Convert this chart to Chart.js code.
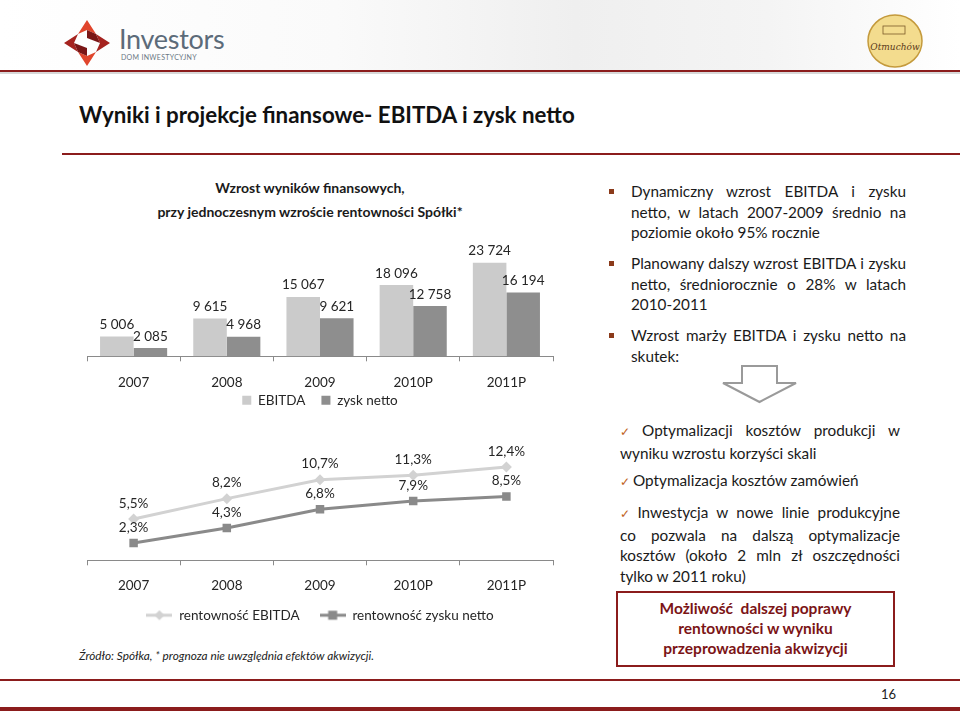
<!DOCTYPE html>
<html>
<head>
<meta charset="utf-8">
<script src="https://cdn.jsdelivr.net/npm/chart.js@4.4.1/dist/chart.umd.min.js"></script>
<style>
  body { margin: 0; background: #fff; font-family: Lato, "Open Sans", sans-serif; color: #1a1a1a; }
  #page { position: relative; width: 960px; height: 711px; overflow: hidden; }
  .abs { position: absolute; }
  #header { left: 0; top: 0; width: 960px; height: 71px;
    background: linear-gradient(to right, #fff 0%, #fafafa 35%, #efefef 60%, #f4f4f4 80%, #fff 100%); }
  .rule { position: absolute; left: 0; width: 960px; background: #8b1c1c; }
  #title { left: 79px; top: 101px; font-size: 22.3px; font-weight: bold; color: #111; }
  #subtitle { left: 110px; top: 176px; width: 400px; text-align: center; font-size: 14px; font-weight: bold; line-height: 24px; }
  .txt { font-size: 15.3px; line-height: 20.5px; width: 275px; }
  .txt div { text-align: justify; white-space: nowrap; }
  .txt div.j { text-align-last: justify; white-space: normal; }
  .sq { position: absolute; width: 5px; height: 5px; background: #8b3a1a; }
  .chk { color: #c0641e; font-size: 12px; margin-right: 3px; }
  #box { left: 616px; top: 591px; width: 275px; height: 67px; border: 2px solid #8b1c1c;
    color: #7b1416; font-weight: bold; font-size: 15.5px; line-height: 20px; text-align: center; padding-top: 5px; box-sizing: content-box; }
  #src { left: 79px; top: 648px; font-size: 11.8px; font-style: italic; color: #222; }
</style>
</head>
<body>
<div id="page">
  <div id="header" class="abs"></div>
  <div class="rule" style="top:70px;height:2px;"></div>
  <div class="abs" style="left:0;top:72px;width:960px;height:2px;background:#d8d8d8;"></div>

  <!-- Investors logo -->
  <svg class="abs" style="left:62px;top:18px;" width="50" height="50" viewBox="0 0 50 50">
    <path d="M25 2 L34 16 L25 12 L16 16 Z" fill="#e0452c"/>
    <path d="M48 25 L34 34 L38 25 L34 16 Z" fill="#a5231f"/>
    <path d="M25 48 L16 34 L25 38 L34 34 Z" fill="#e0452c"/>
    <path d="M2 25 L16 16 L12 25 L16 34 Z" fill="#a5231f"/>
    <path d="M25 12 L34 16 L38 25 L25 20 Z" fill="#7a1616"/>
    <path d="M25 38 L16 34 L12 25 L25 30 Z" fill="#7a1616"/>
  </svg>
  <div class="abs" style="left:119px;top:22px;font-size:27px;color:#5c6b79;letter-spacing:-0.3px;">Investors</div>
  <div class="abs" style="left:121px;top:53px;font-size:7px;color:#6a7783;letter-spacing:0.3px;">DOM INWESTYCYJNY</div>

  <!-- Otmuchów logo -->
  <svg class="abs" style="left:866px;top:13px;" width="58" height="56" viewBox="0 0 58 56">
    <ellipse cx="29" cy="28" rx="27" ry="26" fill="#f3dc8e" stroke="#c49a3c" stroke-width="1.5"/>
    <rect x="17" y="13" width="22" height="8" fill="none" stroke="#7a5a2a" stroke-width="0.8"/>
    <text x="29" y="37" text-anchor="middle" font-family="DejaVu Serif" font-style="italic" font-size="9" fill="#5a3a1a">Otmuchów</text>
  </svg>

  <div id="title" class="abs">Wyniki i projekcje finansowe- EBITDA i zysk netto</div>
  <div class="abs" style="left:62px;top:153px;width:898px;height:2px;background:#8b1c1c;"></div>

  <div id="subtitle" class="abs">Wzrost wyników finansowych,<br>przy jednoczesnym wzroście rentowności Spółki*</div>

  <div class="abs" style="left:80px;top:230px;width:480px;height:187px;"><canvas id="barChart"></canvas></div>
  <div class="abs" style="left:80px;top:432px;width:480px;height:200px;"><canvas id="lineChart"></canvas></div>

  <div id="src" class="abs">Źródło: Spółka, * prognoza nie uwzględnia efektów akwizycji.</div>

  <!-- right column -->
  <div class="sq" style="left:609px;top:189px;"></div>
  <div class="sq" style="left:609px;top:261px;"></div>
  <div class="sq" style="left:609px;top:333px;"></div>
  <div class="abs txt" style="left:631px;top:181px;">
    <div class="j">Dynamiczny wzrost EBITDA i zysku</div>
    <div class="j">netto, w latach 2007-2009 średnio na</div>
    <div>poziomie około 95% rocznie</div>
  </div>
  <div class="abs txt" style="left:631px;top:253px;">
    <div class="j">Planowany dalszy wzrost EBITDA i zysku</div>
    <div class="j">netto, średniorocznie o 28% w latach</div>
    <div>2010-2011</div>
  </div>
  <div class="abs txt" style="left:631px;top:325px;">
    <div class="j">Wzrost marży EBITDA i zysku netto na</div>
    <div>skutek:</div>
  </div>

  <svg class="abs" style="left:720px;top:364px;" width="80" height="40" viewBox="0 0 80 40">
    <path d="M22 2 L57 2 L57 19 L76 19 L39.5 38 L3 19 L22 19 Z" fill="#fff" stroke="#9a9a9a" stroke-width="2"/>
  </svg>

  <div class="abs txt" style="left:620px;top:420px;width:280px;">
    <div class="j"><span class="chk">✓</span>Optymalizacji kosztów produkcji w</div>
    <div>wyniku wzrostu korzyści skali</div>
  </div>
  <div class="abs txt" style="left:620px;top:470px;width:280px;">
    <div><span class="chk">✓</span>Optymalizacja kosztów zamówień</div>
  </div>
  <div class="abs txt" style="left:620px;top:502px;width:280px;">
    <div class="j"><span class="chk">✓</span>Inwestycja w nowe linie produkcyjne</div>
    <div class="j">co pozwala na dalszą optymalizacje</div>
    <div class="j">kosztów (około 2 mln zł oszczędności</div>
    <div>tylko w 2011 roku)</div>
  </div>
  <div id="box" class="abs">Możliwość&nbsp; dalszej poprawy<br>rentowności w wyniku<br>przeprowadzenia akwizycji</div>

  <div class="rule" style="top:679px;height:2px;"></div>
  <div class="abs" style="left:881px;top:686px;font-size:13px;color:#222;">16</div>
  <div class="rule" style="top:707px;height:4px;"></div>
</div>

<script>
// dane
const years = ['2007', '2008', '2009', '2010P', '2011P'];
const ebitda = [5006, 9615, 15067, 18096, 23724];
const zyskNetto = [2085, 4968, 9621, 12758, 16194];
const rentEbitda = [5.5, 8.2, 10.7, 11.3, 12.4];
const rentZysku = [2.3, 4.3, 6.8, 7.9, 8.5];

const FONT = 'Lato';
const TEXT = '#262626';

// etykiety wartosci nad slupkami / punktami
const valueLabels = {
  id: 'valueLabels',
  afterDatasetsDraw(chart, args, opts) {
    const ctx = chart.ctx;
    ctx.save();
    ctx.font = '13.5px ' + FONT;
    ctx.fillStyle = TEXT;
    ctx.textAlign = 'center';
    ctx.textBaseline = 'bottom';
    chart.data.datasets.forEach((ds, di) => {
      const meta = chart.getDatasetMeta(di);
      meta.data.forEach((el, i) => {
        ctx.fillText(opts.format(ds.data[i]), el.x, el.y - opts.offset);
      });
    });
    ctx.restore();
  }
};

// legenda zajmuje mniej miejsca w ukladzie, ale rysuje sie w tym samym miejscu
const legendLift = {
  id: 'legendLift',
  beforeLayout(chart, args, opts) {
    const lg = chart.legend;
    if (lg && !lg._lifted) {
      const fit = lg.fit;
      lg.fit = function () { fit.call(this); this.height -= opts.k; };
      lg._lifted = true;
    }
  },
  afterLayout(chart, args, opts) {
    if (chart.legend) { chart.legend.top -= opts.k; }
  }
};

const fmtThousands = (v) => String(v).replace(/\B(?=(\d{3})+(?!\d))/g, ' ');
const fmtPct = (v) => v.toFixed(1).replace('.', ',') + '%';

new Chart(document.getElementById('barChart'), {
  type: 'bar',
  data: {
    labels: years,
    datasets: [
      { label: 'EBITDA', data: ebitda, backgroundColor: '#cbcbcb' },
      { label: 'zysk netto', data: zyskNetto, backgroundColor: '#8e8e8e' }
    ]
  },
  options: {
    responsive: true,
    maintainAspectRatio: false,
    animation: false,
    categoryPercentage: 0.72,
    barPercentage: 1.0,
    layout: { padding: { top: 8, left: 7, right: 7, bottom: 0 } },
    scales: {
      x: {
        grid: { offset: true, drawOnChartArea: false, drawTicks: true, tickLength: 5, color: '#8a8a8a' },
        border: { color: '#8a8a8a' },
        ticks: { font: { family: FONT, size: 13.5 }, color: TEXT, padding: 13 }
      },
      y: { display: false, min: 0, max: 30000 }
    },
    plugins: {
      legend: {
        position: 'bottom',
        labels: { boxWidth: 9, boxHeight: 9, padding: 16, font: { family: FONT, size: 13.5 }, color: TEXT }
      },
      tooltip: { enabled: false },
      valueLabels: { format: fmtThousands, offset: 5 },
      legendLift: { k: 26 }
    }
  },
  plugins: [valueLabels, legendLift]
});

// ikonki legendy: linia z markerem
function legendIcon(color, shape) {
  const c = document.createElement('canvas');
  c.width = 26; c.height = 12;
  const g = c.getContext('2d');
  g.strokeStyle = color; g.fillStyle = color; g.lineWidth = 3;
  g.beginPath(); g.moveTo(0, 6); g.lineTo(26, 6); g.stroke();
  if (shape === 'diamond') {
    g.beginPath(); g.moveTo(13, 1); g.lineTo(18, 6); g.lineTo(13, 11); g.lineTo(8, 6); g.closePath(); g.fill();
  } else {
    g.fillRect(8.5, 1.5, 9, 9);
  }
  return c;
}
const icons = [legendIcon('#d2d2d2', 'diamond'), legendIcon('#8a8a8a', 'square')];

new Chart(document.getElementById('lineChart'), {
  type: 'line',
  data: {
    labels: years,
    datasets: [
      { label: 'rentowność EBITDA', data: rentEbitda, borderColor: '#d2d2d2', backgroundColor: '#d2d2d2',
        borderWidth: 3, pointStyle: 'rectRot', pointRadius: 5.5, pointBorderWidth: 0 },
      { label: 'rentowność zysku netto', data: rentZysku, borderColor: '#8a8a8a', backgroundColor: '#8a8a8a',
        borderWidth: 3, pointStyle: 'rect', pointRadius: 6, pointBorderWidth: 0 }
    ]
  },
  options: {
    responsive: true,
    maintainAspectRatio: false,
    animation: false,
    layout: { padding: { top: 8, left: 7, right: 7, bottom: 0 } },
    scales: {
      x: {
        offset: true,
        grid: { offset: true, drawOnChartArea: false, drawTicks: true, tickLength: 5, color: '#8a8a8a' },
        border: { color: '#8a8a8a' },
        ticks: { font: { family: FONT, size: 13.5 }, color: TEXT, padding: 12 }
      },
      y: { display: false, min: 0, max: 16 }
    },
    plugins: {
      legend: {
        position: 'bottom',
        labels: {
          usePointStyle: true, pointStyleWidth: 26, boxHeight: 12, padding: 20,
          font: { family: FONT, size: 13.5 }, color: TEXT,
          generateLabels: (chart) => Chart.defaults.plugins.legend.labels.generateLabels(chart)
            .map((it, i) => Object.assign(it, { pointStyle: icons[i] }))
        }
      },
      tooltip: { enabled: false },
      valueLabels: { format: fmtPct, offset: 9 },
      legendLift: { k: 17 }
    }
  },
  plugins: [valueLabels, legendLift]
});
</script>
</body>
</html>
